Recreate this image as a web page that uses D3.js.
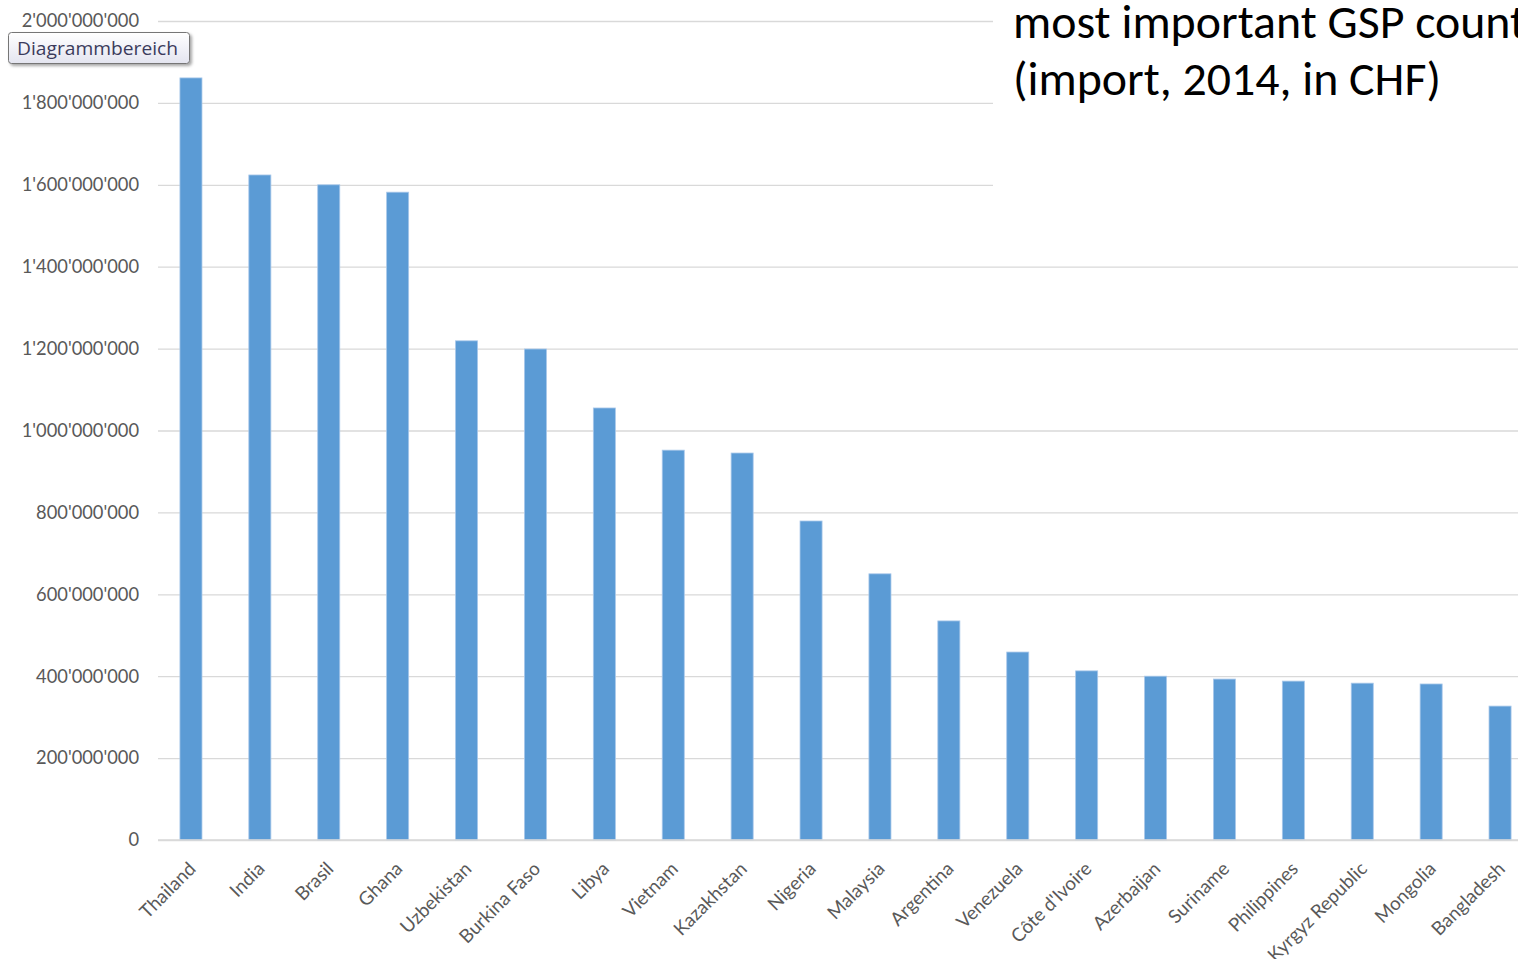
<!DOCTYPE html>
<html>
<head>
<meta charset="utf-8">
<script src="https://cdn.jsdelivr.net/npm/d3@7"></script>
<style>
html, body { margin: 0; padding: 0; background: #fff; overflow: hidden; }
svg { display: block; }
</style>
</head>
<body>
<div id="chart"></div>
<script>
// values (CHF, imports 2014)
const countries = ["Thailand", "India", "Brasil", "Ghana", "Uzbekistan", "Burkina Faso", "Libya",
    "Vietnam", "Kazakhstan", "Nigeria", "Malaysia", "Argentina", "Venezuela", "Côte d'Ivoire",
    "Azerbaijan", "Suriname", "Philippines", "Kyrgyz Republic", "Mongolia", "Bangladesh"];
const imports = [1861e6, 1624e6, 1600e6, 1582e6, 1219e6, 1199e6, 1055e6,
    952e6, 945e6, 779e6, 650e6, 535e6, 459e6, 413e6,
    400e6, 393e6, 388e6, 383e6, 381e6, 327e6];
const yTicks = [0, 200e6, 400e6, 600e6, 800e6, 1000e6, 1200e6, 1400e6, 1600e6, 1800e6, 2000e6];
const titleLines = ["most important GSP countries", "(import, 2014, in CHF)"];
const tooltipText = "Diagrammbereich";

const width = 1518, height = 959;
const margin = { top: 21, bottom: 119, left: 156.5 };

const data = countries.map((c, i) => ({ country: c, value: imports[i] }));

const svg = d3.select("#chart").append("svg")
    .attr("width", width)
    .attr("height", height);

const x = d3.scaleBand()
    .domain(countries)
    .range([margin.left, margin.left + 68.9 * countries.length])
    .paddingInner(0.68)
    .paddingOuter(0.34);

const y = d3.scaleLinear()
    .domain([0, 2e9])
    .range([height - margin.bottom, margin.top]);

const swiss = d3.formatLocale({ decimal: ".", thousands: "'", grouping: [3], currency: ["", ""] });
const fmt = swiss.format(",");

// gridlines + y labels
const yAxis = g => g
    .attr("transform", `translate(158,0)`)
    .call(d3.axisLeft(y).tickValues(yTicks).tickFormat(fmt).tickSize(-(width - 158)).tickPadding(19))
    .call(g => g.select(".domain").remove())
    .call(g => g.selectAll(".tick line").attr("stroke", "#d9d9d9").attr("stroke-width", 1.3))
    .call(g => g.selectAll(".tick text")
        .attr("fill", "#595959")
        .attr("font-family", "Lato, 'Liberation Sans', sans-serif")
        .attr("font-size", 18.3));

svg.append("g").call(yAxis);

// bars
svg.append("g")
    .selectAll("rect")
    .data(data)
    .join("rect")
    .attr("x", d => x(d.country))
    .attr("y", d => y(d.value))
    .attr("width", x.bandwidth())
    .attr("height", d => y(0) - y(d.value))
    .attr("fill", "#5b9bd5")
    .attr("stroke", "#a9c8ea")
    .attr("stroke-width", 0.8);

// x axis baseline and labels
const xAxis = g => g
    .attr("transform", `translate(0,${y(0)})`)
    .call(d3.axisBottom(x).tickSize(0).tickSizeOuter(0))
    .call(g => g.select(".domain").attr("stroke", "#d9d9d9").attr("stroke-width", 1.5)
        .attr("d", `M158,0H${width}`))
    .call(g => g.selectAll(".tick text")
        .attr("fill", "#595959")
        .attr("font-family", "Lato, 'Liberation Sans', sans-serif")
        .attr("font-size", 18.8)
        .attr("text-anchor", "end")
        .attr("dy", null)
        .attr("y", null)
        .attr("transform", "translate(6,30) rotate(-45)"));

svg.append("g").call(xAxis);

// title text box sitting over the chart
svg.append("rect")
    .attr("x", 993).attr("y", 0)
    .attr("width", width - 993).attr("height", 215)
    .attr("fill", "#fff");

const title = svg.append("text")
    .attr("x", 1013)
    .attr("font-family", "Carlito, Lato, 'Open Sans', sans-serif")
    .attr("font-size", 42)
    .attr("fill", "#000");
title.selectAll("tspan")
    .data(titleLines)
    .join("tspan")
    .attr("x", 1013)
    .attr("y", (d, i) => 38 + i * 57)
    .text(d => d);

// fit the second line width to the reference (~428px)
const t2 = title.selectAll("tspan").nodes()[1];
const len = t2.getComputedTextLength();
title.attr("font-size", 42 * 428 / len);

// "Diagrammbereich" hover tooltip
const defs = svg.append("defs");
const grad = defs.append("linearGradient").attr("id", "tipgrad")
    .attr("x1", 0).attr("y1", 0).attr("x2", 0).attr("y2", 1);
grad.append("stop").attr("offset", "0%").attr("stop-color", "#ffffff");
grad.append("stop").attr("offset", "100%").attr("stop-color", "#e4e5f0");
const shadow = defs.append("filter").attr("id", "tipshadow")
    .attr("x", "-10%").attr("y", "-20%").attr("width", "130%").attr("height", "160%");
shadow.append("feDropShadow").attr("dx", 2).attr("dy", 2).attr("stdDeviation", 1.5)
    .attr("flood-color", "#000").attr("flood-opacity", 0.35);

const tip = svg.append("g");
tip.append("rect")
    .attr("x", 8.5).attr("y", 32.5)
    .attr("width", 181).attr("height", 31)
    .attr("rx", 3)
    .attr("fill", "url(#tipgrad)")
    .attr("stroke", "#767676")
    .attr("filter", "url(#tipshadow)");
tip.append("text")
    .attr("x", 17).attr("y", 54.5)
    .attr("font-family", "'Open Sans', 'Noto Sans', sans-serif")
    .attr("font-size", 18.5)
    .attr("fill", "#3b3b5c")
    .attr("textLength", 161)
    .attr("lengthAdjust", "spacingAndGlyphs")
    .text(tooltipText);
</script>
</body>
</html>
